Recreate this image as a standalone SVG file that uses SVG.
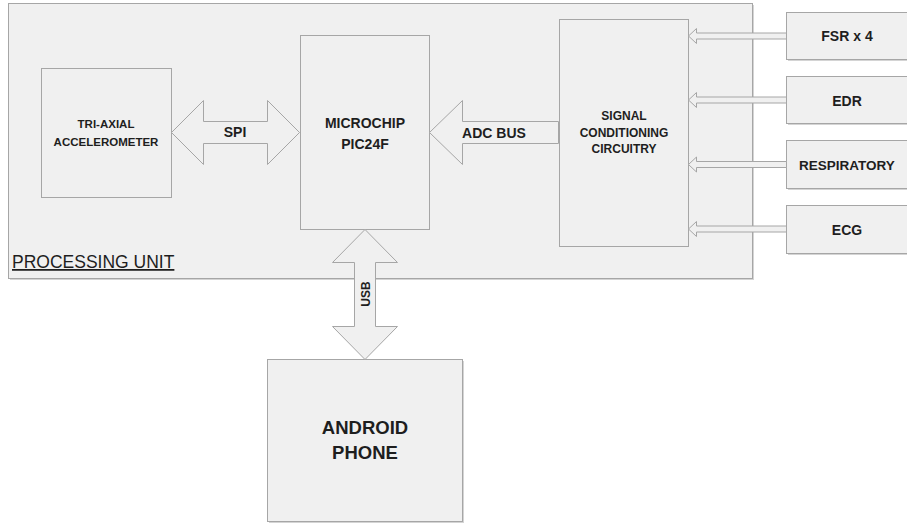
<svg xmlns="http://www.w3.org/2000/svg" width="907" height="523" viewBox="0 0 907 523">
<style>
.box{fill:#f0f0f0;stroke:#a6a6a6;stroke-width:1}
.shadow{fill:#d4d4d4}
.arr{fill:#f0f0f0;stroke:#a6a6a6;stroke-width:1;stroke-linejoin:miter}
text{font-family:"Liberation Sans",Arial,sans-serif;font-weight:bold;fill:#1e1e1e;text-anchor:middle}
.s12{font-size:12px}
.s11{font-size:11.5px}
.s14{font-size:14px}
.s18{font-size:18.5px}
.pu{font-size:17.5px;font-weight:normal;text-anchor:start;text-decoration:underline}
</style>
<rect x="0" y="0" width="907" height="523" fill="#ffffff"/>
<g id="processing-unit">
<rect x="10" y="5" width="744" height="275" class="shadow"/>
<rect x="8.5" y="3.5" width="744" height="275" class="box"/>
<text x="12" y="268" class="pu">PROCESSING UNIT</text>
</g>
<g id="accelerometer">
<rect x="41.5" y="68.5" width="130" height="129" class="box"/>
<text x="106" y="128" class="s11">TRI-AXIAL</text>
<text x="106" y="146" class="s11">ACCELEROMETER</text>
</g>
<g id="microchip">
<rect x="300.5" y="35.5" width="129" height="194" class="box"/>
<text x="365" y="128" class="s14">MICROCHIP</text>
<text x="365" y="149" class="s14">PIC24F</text>
</g>
<g id="signal-conditioning">
<rect x="559.5" y="19.5" width="129" height="227" class="box"/>
<text x="624" y="120" class="s12">SIGNAL</text>
<text x="624" y="137" class="s12">CONDITIONING</text>
<text x="624" y="153" class="s12">CIRCUITRY</text>
</g>
<g id="fsr">
<rect x="788" y="14" width="121" height="47" class="shadow"/>
<rect x="786.5" y="12.5" width="121" height="47" class="box"/>
<text x="847" y="41" class="s14">FSR x 4</text>
</g>
<g id="edr">
<rect x="788" y="78" width="121" height="47" class="shadow"/>
<rect x="786.5" y="76.5" width="121" height="47" class="box"/>
<text x="847" y="106" class="s14">EDR</text>
</g>
<g id="respiratory">
<rect x="788" y="142" width="121" height="48" class="shadow"/>
<rect x="786.5" y="140.5" width="121" height="48" class="box"/>
<text x="847" y="170" class="s14" style="font-size:13.5px">RESPIRATORY</text>
</g>
<g id="ecg">
<rect x="788" y="207" width="121" height="48" class="shadow"/>
<rect x="786.5" y="205.5" width="121" height="48" class="box"/>
<text x="847" y="235" class="s14">ECG</text>
</g>
<g id="android">
<rect x="269" y="361" width="195" height="162" class="shadow"/>
<rect x="267.5" y="359.5" width="195" height="162" class="box"/>
<text x="365" y="434" class="s18">ANDROID</text>
<text x="365" y="459" class="s18">PHONE</text>
</g>
<g id="connectors">
<polygon class="arr" points="171.5,132.5 203.5,100.5 203.5,121.5 267.5,121.5 267.5,100.5 299.5,132.5 267.5,164.5 267.5,143.5 203.5,143.5 203.5,164.5"/>
<text x="235" y="137" class="s14">SPI</text>
<polygon class="arr" points="429.5,132.5 462.5,100.5 462.5,121.5 558.5,121.5 558.5,143.5 462.5,143.5 462.5,164.5"/>
<text x="494" y="138" class="s14">ADC BUS</text>
<polygon class="arr" points="688.5,36 696.5,28.5 696.5,33 786.5,33 786.5,39 696.5,39 696.5,43.5"/>
<polygon class="arr" points="688.5,100 696.5,92.5 696.5,97 786.5,97 786.5,103 696.5,103 696.5,107.5"/>
<polygon class="arr" points="688.5,164.5 696.5,157 696.5,161.5 786.5,161.5 786.5,167.5 696.5,167.5 696.5,172"/>
<polygon class="arr" points="688.5,229 696.5,221.5 696.5,226 786.5,226 786.5,232 696.5,232 696.5,236.5"/>
<polygon class="arr" points="365,229.5 397.5,262.5 375.5,262.5 375.5,326.5 397.5,326.5 365,359.5 332.5,326.5 354.5,326.5 354.5,262.5 332.5,262.5"/>
<text transform="translate(369.5,294) rotate(-90)" class="s12">USB</text>
</g>
</svg>
